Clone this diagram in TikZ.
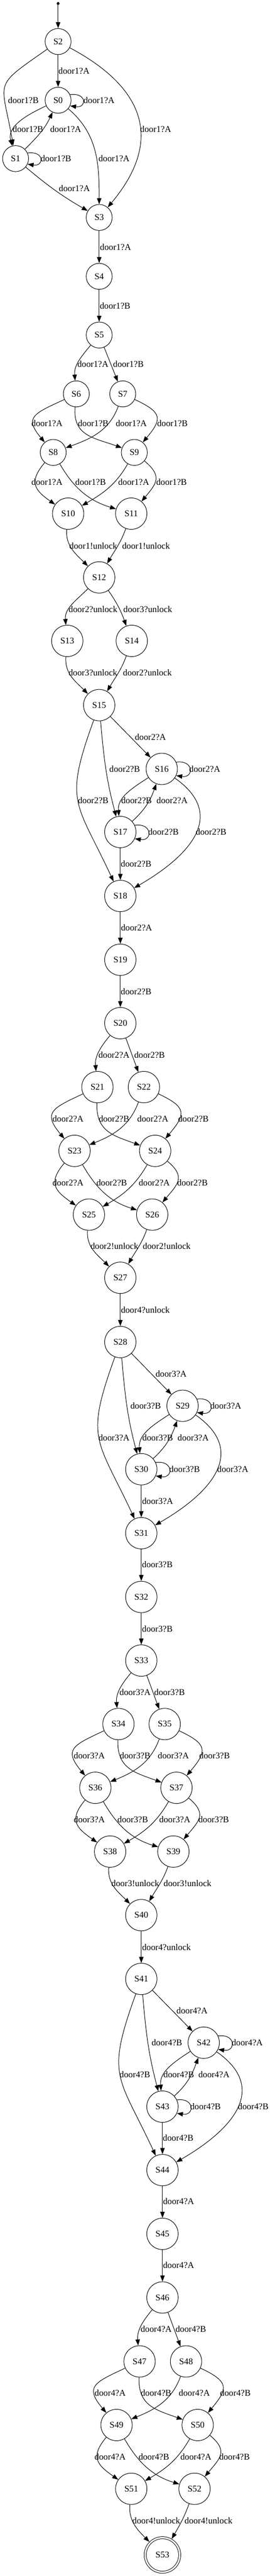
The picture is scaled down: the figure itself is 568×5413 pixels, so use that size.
\documentclass[tikz,border=0pt]{standalone}
\usepackage{fontspec}
\setmainfont{Liberation Serif}
\usetikzlibrary{arrows.meta}

\begin{document}
\begin{tikzpicture}[x=0.75pt, y=0.75pt, line width=0.8pt, font=\fontsize{14pt}{16pt}\selectfont]
    % Node styles
    \tikzstyle{none}=[inner sep=0mm]
    \tikzstyle{start}=[fill=black, draw=black, shape=circle, inner sep=0mm, minimum size=3.6pt]
    \tikzstyle{small state}=[fill=white, draw=black, shape=circle, inner sep=0mm, minimum size=41pt]
    \tikzstyle{state}=[fill=white, draw=black, shape=circle, inner sep=0mm, minimum size=49.5pt]
    \tikzstyle{final state}=[fill=white, draw=black, shape=circle, inner sep=0mm, minimum size=54.4pt, double, double distance=2.5pt, outer sep=2pt]
    % Edge styles
    \tikzstyle{arrow}=[-{Triangle[length=9.5pt, width=7pt]}]
    \tikzstyle{every loop}=[]

    \useasboundingbox (0, 0) rectangle (568, -5413);

    % states
    \node [style=start] (start) at (122.3, -7.3) {};
    \node [style=small state] (2) at (122.3, -87.3) {S2};
    \node [style=small state] (0) at (122.3, -210.7) {S0};
    \node [style=small state] (1) at (32.8, -333.3) {S1};
    \node [style=small state] (3) at (208.8, -457) {S3};
    \node [style=small state] (4) at (208.8, -580.7) {S4};
    \node [style=small state] (5) at (208.8, -704) {S5};
    \node [style=small state] (6) at (160.6, -827.7) {S6};
    \node [style=small state] (7) at (258.4, -827.7) {S7};
    \node [style=small state] (8) at (112, -950.7) {S8};
    \node [style=small state] (9) at (282.8, -950.7) {S9};
    \node [style=state] (10) at (143.4, -1079.3) {S10};
    \node [style=state] (11) at (276.3, -1079.3) {S11};
    \node [style=state] (12) at (208.8, -1213.3) {S12};
    \node [style=state] (13) at (141.6, -1346.7) {S13};
    \node [style=state] (14) at (277.4, -1346.7) {S14};
    \node [style=state] (15) at (208.8, -1481.7) {S15};
    \node [style=state] (16) at (340.5, -1615.7) {S16};
    \node [style=state] (17) at (253.3, -1748.3) {S17};
    \node [style=state] (18) at (253.3, -1882.7) {S18};
    \node [style=state] (19) at (253.3, -2016.7) {S19};
    \node [style=state] (20) at (253.3, -2150) {S20};
    \node [style=state] (21) at (205.1, -2284.3) {S21};
    \node [style=state] (22) at (302.9, -2284.3) {S22};
    \node [style=state] (23) at (156.9, -2418.3) {S23};
    \node [style=state] (24) at (326.6, -2418.3) {S24};
    \node [style=state] (25) at (187.2, -2552.3) {S25};
    \node [style=state] (26) at (320.4, -2552.3) {S26};
    \node [style=state] (27) at (253.3, -2685) {S27};
    \node [style=state] (28) at (253.3, -2820) {S28};
    \node [style=state] (29) at (384.3, -2954) {S29};
    \node [style=state] (30) at (297.4, -3087.3) {S30};
    \node [style=state] (31) at (297.4, -3221.7) {S31};
    \node [style=state] (32) at (297.4, -3355.7) {S32};
    \node [style=state] (33) at (297.4, -3489.3) {S33};
    \node [style=state] (34) at (249.3, -3622.7) {S34};
    \node [style=state] (35) at (346.7, -3622.7) {S35};
    \node [style=state] (36) at (200.7, -3756.7) {S36};
    \node [style=state] (37) at (371.5, -3756.7) {S37};
    \node [style=state] (38) at (231.8, -3890.7) {S38};
    \node [style=state] (39) at (365, -3890.7) {S39};
    \node [style=state] (40) at (297.4, -4024.3) {S40};
    \node [style=state] (41) at (297.4, -4158.3) {S41};
    \node [style=state] (42) at (428.8, -4292.3) {S42};
    \node [style=state] (43) at (342, -4426.7) {S43};
    \node [style=state] (44) at (342, -4560) {S44};
    \node [style=state] (45) at (342, -4694) {S45};
    \node [style=state] (46) at (342, -4827.7) {S46};
    \node [style=state] (47) at (293.8, -4962) {S47};
    \node [style=state] (48) at (391.6, -4962) {S48};
    \node [style=state] (49) at (245.3, -5095.7) {S49};
    \node [style=state] (50) at (416.1, -5095.7) {S50};
    \node [style=state] (51) at (276.3, -5229.7) {S51};
    \node [style=state] (52) at (409.5, -5229.7) {S52};
    \node [style=final state] (53) at (342, -5368.7) {S53};

    % labels
    \node [style=none] (l1) at (155.7, -149) {door1?A};
    \node [style=none] (l2) at (49.1, -210.7) {door1?B};
    \node [style=none] (l3) at (208.4, -210.7) {door1?A};
    \node [style=none] (l4) at (58.9, -271.7) {door1?B};
    \node [style=none] (l5) at (138.3, -271.7) {door1?A};
    \node [style=none] (l6) at (240, -333.3) {door1?A};
    \node [style=none] (l7) at (327.6, -271.7) {door1?A};
    \node [style=none] (l8) at (117.7, -333.3) {door1?B};
    \node [style=none] (l9) at (156.6, -395.7) {door1?A};
    \node [style=none] (l10) at (243.2, -519) {door1?A};
    \node [style=none] (l11) at (242.2, -642.7) {door1?B};
    \node [style=none] (l12) at (195.6, -765) {door1?A};
    \node [style=none] (l13) at (270.3, -765) {door1?B};
    \node [style=none] (l14) at (98.9, -889.3) {door1?A};
    \node [style=none] (l15) at (196.2, -889.3) {door1?B};
    \node [style=none] (l16) at (276.3, -889.3) {door1?A};
    \node [style=none] (l17) at (363, -889.3) {door1?B};
    \node [style=none] (l18) at (98.9, -1012.7) {door1?A};
    \node [style=none] (l19) at (190.7, -1012.7) {door1?B};
    \node [style=none] (l20) at (281.4, -1012.7) {door1?A};
    \node [style=none] (l21) at (361.1, -1012.7) {door1?B};
    \node [style=none] (l22) at (196.4, -1146.7) {door1!unlock};
    \node [style=none] (l23) at (307.5, -1146.7) {door1!unlock};
    \node [style=none] (l24) at (195.8, -1280) {door2?unlock};
    \node [style=none] (l25) at (311.1, -1280) {door3?unlock};
    \node [style=none] (l26) at (195.6, -1414) {door3?unlock};
    \node [style=none] (l27) at (310.2, -1414) {door2?unlock};
    \node [style=none] (l28) at (316.6, -1549) {door2?A};
    \node [style=none] (l29) at (262.4, -1615.7) {door2?B};
    \node [style=none] (l30) at (431, -1615.7) {door2?A};
    \node [style=none] (l31) at (196.2, -1681.7) {door2?B};
    \node [style=none] (l32) at (287.4, -1681.7) {door2?B};
    \node [style=none] (l33) at (362.2, -1681.7) {door2?A};
    \node [style=none] (l34) at (344, -1748.3) {door2?B};
    \node [style=none] (l35) at (444.3, -1748.3) {door2?B};
    \node [style=none] (l36) at (286.5, -1815) {door2?B};
    \node [style=none] (l37) at (287.4, -1949.3) {door2?A};
    \node [style=none] (l38) at (286.5, -2083.3) {door2?B};
    \node [style=none] (l39) at (240, -2216.7) {door2?A};
    \node [style=none] (l40) at (314.8, -2216.7) {door2?B};
    \node [style=none] (l41) at (143.2, -2350.7) {door2?A};
    \node [style=none] (l42) at (240, -2350.7) {door2?B};
    \node [style=none] (l43) at (321.7, -2350.7) {door2?A};
    \node [style=none] (l44) at (407.1, -2350.7) {door2?B};
    \node [style=none] (l45) at (143.2, -2485) {door2?A};
    \node [style=none] (l46) at (235.2, -2485) {door2?B};
    \node [style=none] (l47) at (324.8, -2485) {door2?A};
    \node [style=none] (l48) at (405.1, -2485) {door2?B};
    \node [style=none] (l49) at (240.9, -2618.3) {door2!unlock};
    \node [style=none] (l50) at (350.9, -2618.3) {door2!unlock};
    \node [style=none] (l51) at (306, -2752.3) {door4?unlock};
    \node [style=none] (l52) at (360.2, -2886.7) {door3?A};
    \node [style=none] (l53) at (306.6, -2954) {door3?B};
    \node [style=none] (l54) at (475.2, -2954) {door3?A};
    \node [style=none] (l55) at (240, -3020.7) {door3?A};
    \node [style=none] (l56) at (331.9, -3020.7) {door3?B};
    \node [style=none] (l57) at (406.6, -3020.7) {door3?A};
    \node [style=none] (l58) at (388.5, -3087.3) {door3?B};
    \node [style=none] (l59) at (490, -3087.3) {door3?A};
    \node [style=none] (l60) at (331.8, -3154.3) {door3?A};
    \node [style=none] (l61) at (331.2, -3287.7) {door3?B};
    \node [style=none] (l62) at (331.2, -3422.3) {door3?B};
    \node [style=none] (l63) at (284.3, -3555.7) {door3?A};
    \node [style=none] (l64) at (356.8, -3555.7) {door3?B};
    \node [style=none] (l65) at (188, -3689.3) {door3?A};
    \node [style=none] (l66) at (284.3, -3689.3) {door3?B};
    \node [style=none] (l67) at (365, -3689.3) {door3?A};
    \node [style=none] (l68) at (451.6, -3689.3) {door3?B};
    \node [style=none] (l69) at (188, -3823.3) {door3?A};
    \node [style=none] (l70) at (279.4, -3823.3) {door3?B};
    \node [style=none] (l71) at (367.9, -3823.3) {door3?A};
    \node [style=none] (l72) at (449.8, -3823.3) {door3?B};
    \node [style=none] (l73) at (284.9, -3957.3) {door3!unlock};
    \node [style=none] (l74) at (394.7, -3957.3) {door3!unlock};
    \node [style=none] (l75) at (350.4, -4091.7) {door4?unlock};
    \node [style=none] (l76) at (404.2, -4225) {door4?A};
    \node [style=none] (l77) at (351.3, -4292.3) {door4?B};
    \node [style=none] (l78) at (520.4, -4292.3) {door4?A};
    \node [style=none] (l79) at (283.8, -4359.3) {door4?B};
    \node [style=none] (l80) at (376.3, -4359.3) {door4?B};
    \node [style=none] (l81) at (450.4, -4359.3) {door4?A};
    \node [style=none] (l82) at (432.5, -4426.7) {door4?B};
    \node [style=none] (l83) at (533, -4426.7) {door4?B};
    \node [style=none] (l84) at (375, -4492.7) {door4?B};
    \node [style=none] (l85) at (375.9, -4626) {door4?A};
    \node [style=none] (l86) at (375.9, -4760) {door4?A};
    \node [style=none] (l87) at (328.8, -4894.3) {door4?A};
    \node [style=none] (l88) at (401.6, -4894.3) {door4?B};
    \node [style=none] (l89) at (231.8, -5028.7) {door4?A};
    \node [style=none] (l90) at (328.6, -5028.7) {door4?B};
    \node [style=none] (l91) at (409.1, -5028.7) {door4?A};
    \node [style=none] (l92) at (495.4, -5028.7) {door4?B};
    \node [style=none] (l93) at (231.8, -5162.3) {door4?A};
    \node [style=none] (l94) at (323.9, -5162.3) {door4?B};
    \node [style=none] (l95) at (412.4, -5162.3) {door4?A};
    \node [style=none] (l96) at (493.6, -5162.3) {door4?B};
    \node [style=none] (l97) at (329, -5296.3) {door4!unlock};
    \node [style=none] (l98) at (438.9, -5296.3) {door4!unlock};

    % door 1
    \draw [style=arrow] (start) to (2);
    \draw [style=arrow] (2) to (0);
    \draw [style=arrow, out=215, in=100, looseness=1.7] (2) to (1);
    \draw [style=arrow, out=-28, in=50, looseness=1.35] (2) to (3);
    \draw [style=arrow] (0.25) .. controls +(8:36) and +(-8:36) .. (0.-25);
    \draw [style=arrow, out=205, in=105] (0) to (1);
    \draw [style=arrow, out=45, in=245] (1) to (0);
    \draw [style=arrow, out=-40, in=90] (0) to (3);
    \draw [style=arrow] (1.25) .. controls +(8:36) and +(-8:36) .. (1.-25);
    \draw [style=arrow, out=-40, in=150] (1) to (3);
    \draw [style=arrow] (3) to (4);
    \draw [style=arrow] (4) to (5);
    \draw [style=arrow, out=230, in=95] (5) to (6);
    \draw [style=arrow] (5) to (7);
    \draw [style=arrow, out=205, in=130, looseness=1.8] (6) to (8);
    \draw [style=arrow, out=-95, in=160, looseness=1.2] (6) to (9);
    \draw [style=arrow, out=250, in=20] (7) to (8);
    \draw [style=arrow, out=-25, in=50, looseness=1.8] (7) to (9);
    \draw [style=arrow, out=230, in=145, looseness=1.5] (8) to (10);
    \draw [style=arrow, out=-60, in=163] (8) to (11);
    \draw [style=arrow, out=240, in=30] (9) to (10);
    \draw [style=arrow, out=-40, in=50, looseness=1.5] (9) to (11);
    \draw [style=arrow, out=-95, in=135] (10) to (12);
    \draw [style=arrow, out=250, in=60] (11) to (12);
    \draw [style=arrow, out=225, in=95] (12) to (13);
    \draw [style=arrow, out=-55, in=110] (12) to (14);
    \draw [style=arrow, out=-95, in=135] (13) to (15);
    \draw [style=arrow, out=250, in=60] (14) to (15);

    % door 2
    \draw [style=arrow] (15) to (16);
    \draw [style=arrow, out=-85, in=105] (15) to (17);
    \draw [style=arrow, out=250, in=115, looseness=1.4] (15) to (18);
    \draw [style=arrow] (16.25) .. controls +(8:38) and +(-8:38) .. (16.-25);
    \draw [style=arrow, out=213, in=95] (16) to (17);
    \draw [style=arrow, out=42, in=250] (17) to (16);
    \draw [style=arrow] (17.25) .. controls +(8:38) and +(-8:38) .. (17.-25);
    \draw [style=arrow, out=-35, in=30, looseness=1.4] (16) to (18);
    \draw [style=arrow] (17) to (18);
    \draw [style=arrow] (18) to (19);
    \draw [style=arrow] (19) to (20);
    \draw [style=arrow, out=230, in=95] (20) to (21);
    \draw [style=arrow] (20) to (22);
    \draw [style=arrow, out=205, in=130, looseness=1.8] (21) to (23);
    \draw [style=arrow, out=-92, in=160, looseness=1.2] (21) to (24);
    \draw [style=arrow, out=250, in=22] (22) to (23);
    \draw [style=arrow, out=-25, in=50, looseness=1.8] (22) to (24);
    \draw [style=arrow, out=230, in=145, looseness=1.5] (23) to (25);
    \draw [style=arrow, out=-60, in=163] (23) to (26);
    \draw [style=arrow, out=240, in=30] (24) to (25);
    \draw [style=arrow, out=-40, in=50, looseness=1.5] (24) to (26);
    \draw [style=arrow, out=-95, in=135] (25) to (27);
    \draw [style=arrow, out=250, in=60] (26) to (27);
    \draw [style=arrow] (27) to (28);

    % door 3
    \draw [style=arrow] (28) to (29);
    \draw [style=arrow, out=-85, in=105] (28) to (30);
    \draw [style=arrow, out=250, in=115, looseness=1.4] (28) to (31);
    \draw [style=arrow] (29.25) .. controls +(8:38) and +(-8:38) .. (29.-25);
    \draw [style=arrow, out=213, in=95] (29) to (30);
    \draw [style=arrow, out=42, in=250] (30) to (29);
    \draw [style=arrow] (30.25) .. controls +(8:38) and +(-8:38) .. (30.-25);
    \draw [style=arrow, out=-35, in=30, looseness=1.4] (29) to (31);
    \draw [style=arrow] (30) to (31);
    \draw [style=arrow] (31) to (32);
    \draw [style=arrow] (32) to (33);
    \draw [style=arrow, out=230, in=95] (33) to (34);
    \draw [style=arrow] (33) to (35);
    \draw [style=arrow, out=205, in=130, looseness=1.8] (34) to (36);
    \draw [style=arrow, out=-92, in=160, looseness=1.2] (34) to (37);
    \draw [style=arrow, out=250, in=22] (35) to (36);
    \draw [style=arrow, out=-25, in=50, looseness=1.8] (35) to (37);
    \draw [style=arrow, out=230, in=145, looseness=1.5] (36) to (38);
    \draw [style=arrow, out=-60, in=163] (36) to (39);
    \draw [style=arrow, out=240, in=30] (37) to (38);
    \draw [style=arrow, out=-40, in=50, looseness=1.5] (37) to (39);
    \draw [style=arrow, out=-95, in=135] (38) to (40);
    \draw [style=arrow, out=250, in=60] (39) to (40);
    \draw [style=arrow] (40) to (41);

    % door 4
    \draw [style=arrow] (41) to (42);
    \draw [style=arrow, out=-85, in=105] (41) to (43);
    \draw [style=arrow, out=250, in=115, looseness=1.4] (41) to (44);
    \draw [style=arrow] (42.25) .. controls +(8:38) and +(-8:38) .. (42.-25);
    \draw [style=arrow, out=213, in=95] (42) to (43);
    \draw [style=arrow, out=42, in=250] (43) to (42);
    \draw [style=arrow] (43.25) .. controls +(8:38) and +(-8:38) .. (43.-25);
    \draw [style=arrow, out=-35, in=30, looseness=1.4] (42) to (44);
    \draw [style=arrow] (43) to (44);
    \draw [style=arrow] (44) to (45);
    \draw [style=arrow] (45) to (46);
    \draw [style=arrow, out=230, in=95] (46) to (47);
    \draw [style=arrow] (46) to (48);
    \draw [style=arrow, out=205, in=130, looseness=1.8] (47) to (49);
    \draw [style=arrow, out=-92, in=160, looseness=1.2] (47) to (50);
    \draw [style=arrow, out=250, in=22] (48) to (49);
    \draw [style=arrow, out=-25, in=50, looseness=1.8] (48) to (50);
    \draw [style=arrow, out=230, in=145, looseness=1.5] (49) to (51);
    \draw [style=arrow, out=-60, in=163] (49) to (52);
    \draw [style=arrow, out=240, in=30] (50) to (51);
    \draw [style=arrow, out=-40, in=50, looseness=1.5] (50) to (52);
    \draw [style=arrow, out=-95, in=135] (51) to (53);
    \draw [style=arrow, out=250, in=60] (52) to (53);
\end{tikzpicture}
\end{document}
